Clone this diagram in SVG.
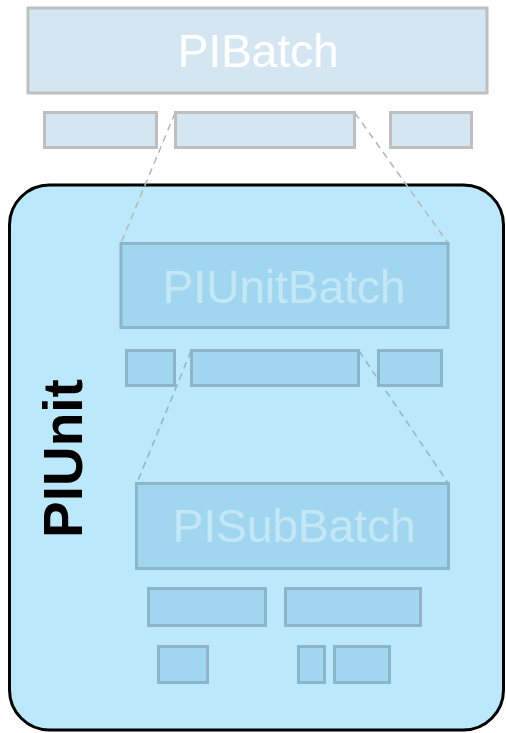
<svg xmlns="http://www.w3.org/2000/svg" width="506" height="733" viewBox="0 0 506 733">
<style>
.top{fill:#d4e6f2;stroke:#bfbfbf;stroke-width:3}
.in{fill:#a0d6f0;stroke:#8db5c9;stroke-width:3}
.ttop{font-family:"Liberation Sans",Arial,sans-serif;font-size:46px;fill:#ffffff;text-anchor:middle}
.tin{font-family:"Liberation Sans",Arial,sans-serif;font-size:46px;fill:#c4e7f6;text-anchor:middle}
.dash{fill:none;stroke-width:1.5;stroke-dasharray:7,5}
</style>
<rect width="506" height="733" fill="#ffffff"/>
<g id="piunit">
<rect x="9.5" y="185" width="494" height="545" rx="40" ry="40" fill="#bbe9fb" stroke="#000" stroke-width="3"/>
<text transform="translate(82,538) rotate(-90)" font-family="'Liberation Sans',Arial,sans-serif" font-weight="bold" font-size="55" fill="#000">PIUnit</text>
</g>
<g id="connectors">
<line class="dash" x1="175" y1="113" x2="121" y2="243" stroke="#b8b8b8"/>
<line class="dash" x1="355" y1="113" x2="448" y2="243" stroke="#b8b8b8"/>
<line class="dash" x1="191" y1="351" x2="137" y2="483" stroke="#8db5c9"/>
<line class="dash" x1="359" y1="351" x2="448" y2="483" stroke="#8db5c9"/>
</g>
<g id="pibatch">
<rect class="top" x="28" y="8" width="459" height="85"/>
<text class="ttop" x="258" y="67">PIBatch</text>
</g>
<g id="pibatch-parts">
<rect class="top" x="44.5" y="112.5" width="112" height="35"/>
<rect class="top" x="175.5" y="112.5" width="179" height="35"/>
<rect class="top" x="390.5" y="112.5" width="81" height="35"/>
</g>
<g id="piunitbatch">
<rect class="in" x="121" y="243.5" width="327" height="84"/>
<text class="tin" x="284" y="303">PIUnitBatch</text>
</g>
<g id="piunitbatch-parts">
<rect class="in" x="126.5" y="350.5" width="48" height="35"/>
<rect class="in" x="191.5" y="350.5" width="167" height="35"/>
<rect class="in" x="378.5" y="350.5" width="63" height="35"/>
</g>
<g id="pisubbatch">
<rect class="in" x="136.5" y="483.5" width="312" height="85"/>
<text class="tin" x="294" y="542">PISubBatch</text>
</g>
<g id="pisubbatch-parts">
<rect class="in" x="148.5" y="588.5" width="117" height="37"/>
<rect class="in" x="285.5" y="588.5" width="135" height="37"/>
<rect class="in" x="158.5" y="646.5" width="49" height="36"/>
<rect class="in" x="298.5" y="646.5" width="26" height="36"/>
<rect class="in" x="334.5" y="646.5" width="55" height="36"/>
</g>
</svg>
